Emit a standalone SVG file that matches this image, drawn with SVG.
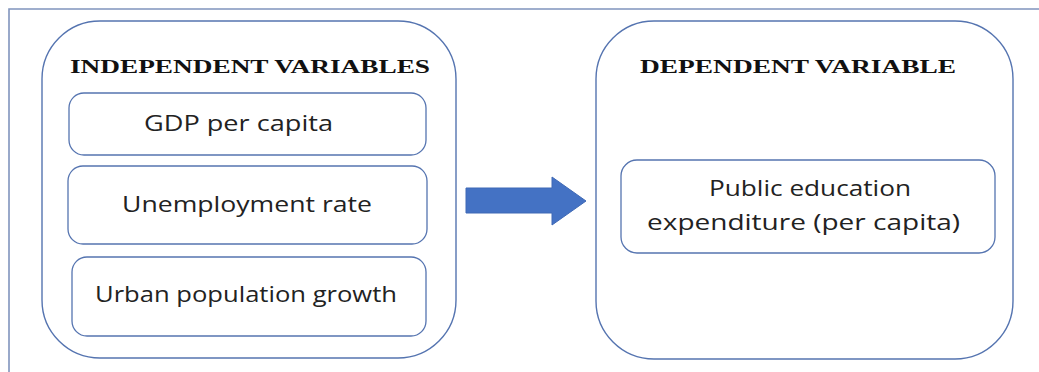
<svg xmlns="http://www.w3.org/2000/svg" width="1039" height="372" viewBox="0 0 1039 372">
  <style>
    .frame { fill: none; stroke: #8094bd; stroke-width: 1.6; }
    .group { fill: #ffffff; stroke: #5574b0; stroke-width: 1.4; }
    .box { fill: #ffffff; stroke: #5574b0; stroke-width: 1.3; }
    .title { font-family: "Liberation Serif", serif; font-weight: bold; font-size: 18px; fill: #111111; }
    .label { font-family: "Open Sans", "Liberation Sans", sans-serif; font-size: 21px; fill: #222222; }
    .arrow { fill: #4472c4; stroke: #3f69b5; stroke-width: 1; }
  </style>

  <rect width="1039" height="372" fill="#ffffff"/>

  <!-- page frame (top and left edges) -->
  <path class="frame" d="M9 372 V9 H1039"/>

  <!-- independent variables group -->
  <g id="independent-variables">
    <rect class="group" x="42" y="21" width="414" height="337" rx="58" ry="58"/>
    <text class="title" x="70" y="73" textLength="360" lengthAdjust="spacingAndGlyphs">INDEPENDENT VARIABLES</text>
  </g>

  <g id="gdp-per-capita">
    <rect class="box" x="69" y="93" width="357" height="62" rx="15" ry="15"/>
    <text class="label" x="144" y="131" textLength="189" lengthAdjust="spacingAndGlyphs">GDP per capita</text>
  </g>

  <g id="unemployment-rate">
    <rect class="box" x="68" y="166" width="359" height="78" rx="15" ry="15"/>
    <text class="label" x="122" y="212" textLength="250" lengthAdjust="spacingAndGlyphs">Unemployment rate</text>
  </g>

  <g id="urban-population-growth">
    <rect class="box" x="72" y="257" width="354" height="79" rx="15" ry="15"/>
    <text class="label" x="95" y="302" textLength="302" lengthAdjust="spacingAndGlyphs">Urban population growth</text>
  </g>

  <!-- dependent variable group -->
  <g id="dependent-variable">
    <rect class="group" x="596" y="21" width="417" height="338" rx="58" ry="58"/>
    <text class="title" x="640" y="73" textLength="316" lengthAdjust="spacingAndGlyphs">DEPENDENT VARIABLE</text>
  </g>

  <g id="public-education-expenditure">
    <rect class="box" x="621" y="160" width="374" height="93" rx="16" ry="16"/>
    <text class="label" x="709" y="196" textLength="202" lengthAdjust="spacingAndGlyphs">Public education</text>
    <text class="label" x="647" y="230" textLength="313" lengthAdjust="spacingAndGlyphs">expenditure (per capita)</text>
  </g>

  <!-- connector -->
  <g id="connectors">
    <path class="arrow" d="M466 188 H552 V177 L586 201 L552 225 V213 H466 Z"/>
  </g>
</svg>
